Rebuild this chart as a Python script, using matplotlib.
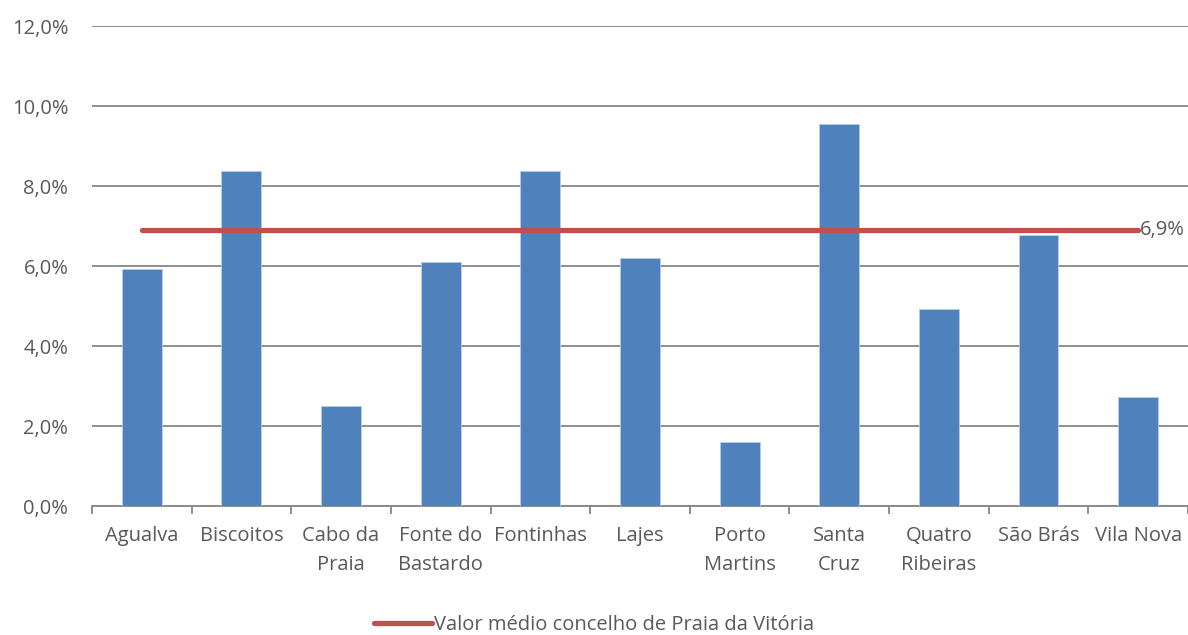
import numpy as np
import matplotlib.pyplot as plt
from matplotlib.ticker import FuncFormatter

plt.rcParams['font.family'] = ['Open Sans', 'DejaVu Sans']

freguesias = ["Agualva", "Biscoitos", "Cabo da\nPraia", "Fonte do\nBastardo", "Fontinhas",
              "Lajes", "Porto\nMartins", "Santa\nCruz", "Quatro\nRibeiras", "São Brás", "Vila Nova"]
valores = [5.92, 8.37, 2.5, 6.1, 8.37, 6.2, 1.6, 9.54, 4.93, 6.78, 2.72]
media = 6.9
legenda = "Valor médio concelho de Praia da Vitória"

cinza = '#595959'
fs = 14.5
fig = plt.figure(figsize=(11.88, 6.35), dpi=100)
ax = fig.add_axes([0.0774, 0.203, 0.9226, 0.756])

x = np.arange(len(freguesias))
ax.bar(x, valores, width=0.4, color='#4F81BD', edgecolor='#B9CDE5', linewidth=0.6, zorder=3)
linha, = ax.plot(x, [media] * len(x), color='#C0504D', lw=3.8, solid_capstyle='round', zorder=4,
                 label=legenda)
ax.text(x[-1] + 0.02, media, f"{media:.1f}%".replace('.', ','), color=cinza, fontsize=fs,
        va='center', ha='left', zorder=5)

ax.set_xlim(-0.5, len(x) - 0.5)
ax.set_ylim(0, 12)
ax.set_yticks(np.arange(0, 12.1, 2))
ax.yaxis.set_major_formatter(FuncFormatter(lambda v, p: f"{v:.1f}%".replace('.', ',')))
ax.grid(axis='y', color='#868686', lw=1.3, zorder=0)
ax.set_axisbelow(True)

ax.set_xticks(x)
ax.set_xticklabels(freguesias, color=cinza, fontsize=fs, linespacing=1.6)
ax.set_xticks(np.arange(-0.5, len(x), 1), minor=True)
ax.tick_params(axis='x', which='major', length=0, pad=14)
ax.tick_params(axis='x', which='minor', length=6, color='#868686', width=1.3)
ax.tick_params(axis='y', length=0, labelcolor=cinza, labelsize=fs, pad=17)

for s in ['top', 'right', 'left']:
    ax.spines[s].set_visible(False)
ax.spines['bottom'].set_color('#868686')
ax.spines['bottom'].set_linewidth(1.3)

fig.legend(handles=[linha], loc='center', bbox_to_anchor=(0.5, 0.015), frameon=False,
           fontsize=fs, labelcolor=cinza, handlelength=2.9, handletextpad=0.1)

fig.savefig("out.png", dpi=100)
